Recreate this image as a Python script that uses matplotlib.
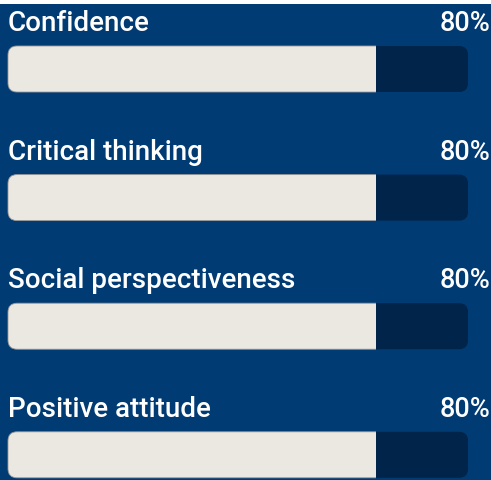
import matplotlib
matplotlib.use('Agg')
import matplotlib.pyplot as plt
from matplotlib.patches import FancyBboxPatch, Rectangle

# data
skills = ['Confidence', 'Critical thinking', 'Social perspectiveness', 'Positive attitude']
scores = [80, 80, 80, 80]

plt.rcParams['font.family'] = ['Roboto', 'DejaVu Sans']

W, H = 491, 480
bg = '#013b73'
track_col = '#00244a'
fill_col = '#ebe7e1'

fig = plt.figure(figsize=(W / 100, H / 100), dpi=100, facecolor='white')
ax = fig.add_axes([0, 0, 1, 476 / 480])
ax.set_facecolor(bg)
ax.set_xlim(0, W)
ax.set_ylim(476, 0)
ax.axis('off')
ax.add_patch(Rectangle((0, 0), W, 476, color=bg, zorder=0))

x0, track_w, bar_h = 8, 460, 46
top0, step = 42, 128.6
rad = 9

for i, (name, val) in enumerate(zip(skills, scores)):
    y = top0 + i * step
    track = FancyBboxPatch((x0, y), track_w, bar_h,
                           boxstyle=f'round,pad=0,rounding_size={rad}',
                           facecolor=track_col, edgecolor='none', zorder=1)
    ax.add_patch(track)
    fill = FancyBboxPatch((x0, y), track_w, bar_h,
                          boxstyle=f'round,pad=0,rounding_size={rad}',
                          facecolor=fill_col, edgecolor='#9a9a9a', lw=0.6, zorder=2)
    ax.add_patch(fill)
    clip = Rectangle((x0 - 2, y - 2), track_w * val / 100 + 2, bar_h + 4,
                     transform=ax.transData)
    fill.set_clip_path(clip)
    ax.text(x0, y - 15, name, color='white', fontsize=20, fontweight='medium',
            ha='left', va='baseline', zorder=3)
    ax.text(490, y - 15, f'{val}%', color='white', fontsize=19.5, fontweight='medium',
            ha='right', va='baseline', zorder=3)

fig.savefig('out.png', dpi=100, facecolor='white')
